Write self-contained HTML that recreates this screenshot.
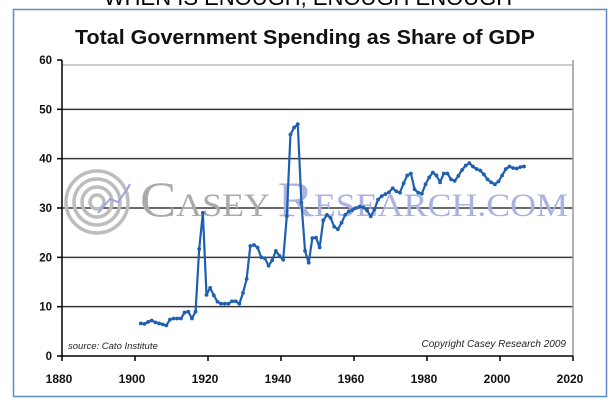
<!DOCTYPE html>
<html><head><meta charset="utf-8"><style>
html,body{margin:0;padding:0;background:#fff;}
body{width:616px;height:403px;overflow:hidden;position:relative;font-family:"Liberation Sans",sans-serif;}
</style></head><body>
<svg id="chart" width="616" height="403" viewBox="0 0 616 403" xmlns="http://www.w3.org/2000/svg">
  <text x="308" y="5" text-anchor="middle" font-family="Liberation Sans, sans-serif" font-size="22" fill="#000">WHEN IS ENOUGH, ENOUGH ENOUGH</text>
  <rect x="13.5" y="9.5" width="593" height="387" fill="#fff" stroke="#5b8ccc" stroke-width="1.5"/>
  <text x="75" y="44" textLength="460" lengthAdjust="spacingAndGlyphs" font-family="Liberation Sans, sans-serif" font-weight="bold" font-size="20" fill="#111">Total Government Spending as Share of GDP</text>
  <g id="grid"></g>
  <g>
    <g fill="none" stroke="#bdbdbd" stroke-width="3.5">
      <circle cx="97" cy="202" r="31"/>
      <circle cx="97" cy="202" r="23"/>
      <circle cx="97" cy="202" r="15"/>
      <circle cx="97" cy="202" r="7"/>
    </g>
    <polyline points="98,213 110,199 118,202 128,188 130,184" fill="none" stroke="#9aa6d8" stroke-width="2"/>
    <text x="140" y="216" textLength="428" lengthAdjust="spacingAndGlyphs" font-family="Liberation Serif, serif" font-size="33"><tspan fill="#aaaaaa" font-size="50">C</tspan><tspan fill="#aaaaaa">ASEY </tspan><tspan fill="#a9b3e0" font-size="50">R</tspan><tspan fill="#a9b3e0">ESEARCH.COM</tspan></text>
  </g>
  <g id="axes"></g>
  <g id="series"></g>
  <text x="68" y="349" font-family="Liberation Sans, sans-serif" font-style="italic" font-size="9.5" fill="#222">source: Cato Institute</text>
  <text x="566" y="347" text-anchor="end" font-family="Liberation Sans, sans-serif" font-style="italic" font-size="10" fill="#222">Copyright Casey Research 2009</text>
</svg>
<script>
const years = [1902,1903,1904,1905,1906,1907,1908,1909,1910,1911,1912,1913,1914,1915,1916,1917,1918,1919,1920,1921,1922,1923,1924,1925,1926,1927,1928,1929,1930,1931,1932,1933,1934,1935,1936,1937,1938,1939,1940,1941,1942,1943,1944,1945,1946,1947,1948,1949,1950,1951,1952,1953,1954,1955,1956,1957,1958,1959,1960,1961,1962,1963,1964,1965,1966,1967,1968,1969,1970,1971,1972,1973,1974,1975,1976,1977,1978,1979,1980,1981,1982,1983,1984,1985,1986,1987,1988,1989,1990,1991,1992,1993,1994,1995,1996,1997,1998,1999,2000,2001,2002,2003,2004,2005,2006,2007];
const spending = [6.6,6.5,6.9,7.2,6.8,6.6,6.4,6.2,7.4,7.6,7.6,7.6,8.8,9.0,7.6,9.0,21.7,29.0,12.4,13.8,12.3,11.0,10.6,10.6,10.6,11.1,11.1,10.6,12.8,15.6,22.3,22.5,22.0,20.0,19.8,18.3,19.4,21.3,20.3,19.5,28.3,44.9,46.3,47.0,31.1,21.3,18.9,23.9,24.0,22.0,27.5,28.6,28.0,26.2,25.7,27.0,28.6,29.3,29.6,30.0,30.3,30.1,29.5,28.3,29.7,31.7,32.4,32.8,33.2,34.0,33.4,33.1,35.0,36.6,37.0,33.8,33.1,32.9,34.8,36.2,37.2,36.6,35.2,37.0,37.0,35.8,35.5,36.5,37.7,38.6,39.1,38.4,37.9,37.6,36.8,35.8,35.2,34.8,35.4,36.6,37.9,38.4,38.1,38.0,38.3,38.4];
const yTicks = [0,10,20,30,40,50,60];
const xTicks = [1880,1900,1920,1940,1960,1980,2000,2020];
const plot = {left:62, right:573, top:60, bottom:356};
function xs(yr){return plot.left + (yr-1880)/(2020-1880)*(plot.right-plot.left) - 1.5;}
function ys(v){return plot.bottom - v/60*(plot.bottom-plot.top);}
const NS="http://www.w3.org/2000/svg";
function mk(tag,attrs,parent){const e=document.createElementNS(NS,tag);for(const k in attrs)e.setAttribute(k,attrs[k]);parent.appendChild(e);return e;}
const grid=document.getElementById('grid'), axes=document.getElementById('axes'), series=document.getElementById('series');
yTicks.forEach(t=>{
  if(t>0 && t<60){
    const l=mk('line',{x1:plot.left,x2:plot.right,y1:ys(t),y2:ys(t),stroke:'#3a3a3a','stroke-width':1.5},grid);
    
    
  }
  const tk=mk('line',{x1:plot.left-5,x2:plot.left,y1:ys(t),y2:ys(t),stroke:'#000','stroke-width':1.5},axes);
  
  
  const tx=mk('text',{x:plot.left-10,y:ys(t)+4,'text-anchor':'end','font-family':'Liberation Sans, sans-serif','font-weight':'bold','font-size':11.5,fill:'#111'},axes);
  tx.textContent=t;
  
  
});
const fr=mk('line',{x1:plot.right,x2:plot.right,y1:plot.top,y2:plot.bottom,stroke:'#999','stroke-width':1.5},axes);


const ft=mk('line',{x1:plot.left,x2:plot.right,y1:plot.top+5,y2:plot.top+5,stroke:'#999','stroke-width':1},axes);


const ya=mk('line',{x1:plot.left,x2:plot.left,y1:plot.top,y2:plot.bottom,stroke:'#000','stroke-width':1.5},axes);


const xa=mk('line',{x1:plot.left,x2:plot.right,y1:plot.bottom,y2:plot.bottom,stroke:'#000','stroke-width':1.5},axes);


xTicks.forEach(t=>{
  const x=plot.left+(t-1880)/140*(plot.right-plot.left);
  const tk=mk('line',{x1:x,x2:x,y1:plot.bottom,y2:plot.bottom+5,stroke:'#000','stroke-width':1.5},axes);
  
  
  const tx=mk('text',{x:x-3,y:plot.bottom+27,'text-anchor':'middle','font-family':'Liberation Sans, sans-serif','font-weight':'bold','font-size':12,fill:'#111'},axes);
  tx.textContent=t;
  
  
});
const pts=years.map((y,i)=>xs(y)+','+ys(spending[i])).join(' ');
const line=mk('polyline',{points:pts,fill:'none',stroke:'#1f5fb0','stroke-width':2.2,'stroke-linejoin':'round'},series);


years.forEach((y,i)=>{
  const c=mk('circle',{cx:xs(y),cy:ys(spending[i]),r:1.9,fill:'#1f5fb0'},series);
  
  
});
</script>
</body></html>
